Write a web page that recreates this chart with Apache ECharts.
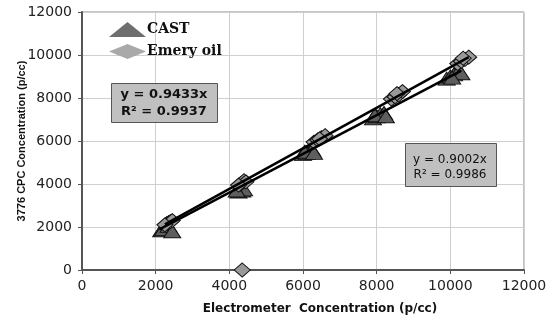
<!DOCTYPE html>
<html>
<head>
<meta charset="utf-8">
<script src="https://cdn.jsdelivr.net/npm/echarts@6/dist/echarts.min.js"></script>
<style>
html,body{margin:0;padding:0;background:#fff;}
#main{width:553px;height:324px;}
</style>
</head>
<body>
<div id="main"></div>
<script>
// CAST (triangles)
var castX = [2150, 2250, 2300, 2200, 2350, 2450, 4250, 4350, 4300, 4400, 4200, 6000, 6100, 6200, 6250, 6050, 6300, 7900, 8000, 8100, 8200, 7950, 8250, 9900, 10000, 10100, 10200, 10300, 10050];
var castY = [1850, 1950, 2000, 1900, 2050, 1800, 3650, 3700, 3800, 3750, 3700, 5400, 5450, 5550, 5600, 5500, 5450, 7050, 7150, 7250, 7300, 7200, 7150, 8900, 9000, 9100, 9200, 9150, 8950];
// Emery oil (diamonds)
var emeryX = [2300, 2350, 2400, 2450, 2250, 4300, 4350, 4400, 4450, 4250, 6300, 6400, 6500, 6600, 6450, 8400, 8500, 8600, 8700, 8550, 10200, 10300, 10400, 10500, 10350, 4350];
var emeryY = [2150, 2200, 2250, 2300, 2100, 4000, 4050, 4150, 4100, 3950, 5950, 6050, 6150, 6250, 6100, 7950, 8050, 8150, 8300, 8200, 9600, 9700, 9800, 9900, 9850, 0];
// trend lines (y = slope * x)
var castSlope = 0.9002, castFitX = [2100, 10300];
var emerySlope = 0.9433, emeryFitX = [2250, 10500];

function zip(a, b){
	var out = [];
	for (var i = 0; i < a.length; i++){
		out.push([a[i], b[i]]);
	}
	return out;
}
function fit(xs, k){
	return xs.map(function(x){ return [x, x * k]; });
}

var myChart = echarts.init(document.getElementById('main'));
var tickFont = {fontFamily: 'DejaVu Sans', fontSize: 14, color: '#222', formatter: function(v){ return String(v); }};
var option = {
	backgroundColor: '#fff',
	animation: false,
	grid: {left: 82, right: 29, top: 12, bottom: 54, show: true, borderColor: '#888', borderWidth: 1, backgroundColor: '#fff'},
	legend: {
		orient: 'vertical',
		left: 104, top: 17,
		itemWidth: 37, itemHeight: 15, itemGap: 7,
		textStyle: {fontFamily: 'DejaVu Serif', fontWeight: 'bold', fontSize: 14, color: '#111', padding: [0, 0, 0, -4]},
		data: [
			{name: 'CAST', icon: 'triangle', itemStyle: {color: '#6e6e6e', borderWidth: 0}},
			{name: 'Emery oil', icon: 'diamond', itemStyle: {color: '#a9a9a9', borderWidth: 0}}
		]
	},
	xAxis: {
		type: 'value', min: 0, max: 12000, interval: 2000,
		name: 'Electrometer  Concentration (p/cc)',
		nameLocation: 'middle', nameGap: 33, nameMoveOverlap: false,
		nameTextStyle: {fontFamily: 'DejaVu Sans', fontWeight: 'bold', fontSize: 12, color: '#111', padding: [0, 0, 0, 34]},
		axisLine: {lineStyle: {color: '#555', width: 2}},
		axisTick: {show: true, length: 4, lineStyle: {color: '#555'}},
		axisLabel: Object.assign({margin: 9}, tickFont),
		splitLine: {lineStyle: {color: '#cfcfcf', width: 1}}
	},
	yAxis: {
		type: 'value', min: 0, max: 12000, interval: 2000,
		name: '3776 CPC Concentration (p/cc)',
		nameLocation: 'middle', nameGap: 55, nameMoveOverlap: false,
		nameTextStyle: {fontFamily: 'Liberation Sans', fontWeight: 'bold', fontStyle: 'normal', fontSize: 11, color: '#111'},
		axisLine: {show: true, lineStyle: {color: '#555', width: 2}},
		axisTick: {show: true, length: 4, lineStyle: {color: '#555'}},
		axisLabel: Object.assign({margin: 10}, tickFont),
		splitLine: {lineStyle: {color: '#cfcfcf', width: 1}}
	},
	series: [
		{
			name: 'CAST', type: 'scatter', symbol: 'triangle', symbolSize: [17, 13],
			itemStyle: {color: '#5e5e5e', borderColor: '#111', borderWidth: 1, opacity: 1},
			data: zip(castX, castY), z: 2
		},
		{
			name: 'Emery oil', type: 'scatter', symbol: 'diamond', symbolSize: [16, 14],
			itemStyle: {color: '#999', borderColor: '#111', borderWidth: 1, opacity: 1},
			data: zip(emeryX, emeryY), z: 3
		},
		{
			name: 'CAST fit', type: 'line', symbol: 'none', silent: true,
			lineStyle: {color: '#000', width: 2.5},
			data: fit(castFitX, castSlope), z: 4
		},
		{
			name: 'Emery fit', type: 'line', symbol: 'none', silent: true,
			lineStyle: {color: '#000', width: 2.5},
			data: fit(emeryFitX, emerySlope), z: 4
		}
	],
	graphic: [
		{type: 'rect', left: 111, top: 83, z: 10, shape: {width: 106, height: 39},
			style: {fill: '#c0c0c0', stroke: '#555', lineWidth: 1}},
		{type: 'text', x: 164, y: 103, z: 11,
			style: {text: 'y = 0.9433x\nR² = 0.9937', fontFamily: 'DejaVu Sans', fontWeight: 'bold', fontSize: 13, lineHeight: 17, fill: '#111', align: 'center', verticalAlign: 'middle'}},
		{type: 'rect', left: 405, top: 143, z: 10, shape: {width: 91, height: 43},
			style: {fill: '#c0c0c0', stroke: '#555', lineWidth: 1}},
		{type: 'text', x: 450, y: 167, z: 11,
			style: {text: 'y = 0.9002x\nR² = 0.9986', fontFamily: 'DejaVu Sans', fontSize: 12, lineHeight: 15, fill: '#111', align: 'center', verticalAlign: 'middle'}}
	]
};
myChart.setOption(option);
</script>
</body>
</html>
